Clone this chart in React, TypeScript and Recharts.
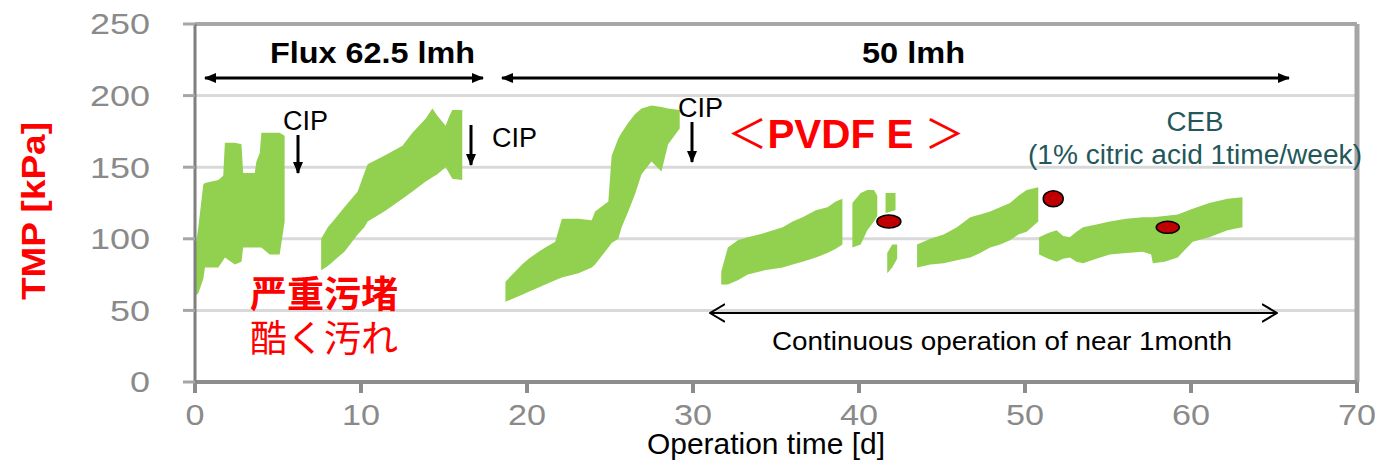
import React from 'react';
import {
  ComposedChart,
  Area,
  Scatter,
  XAxis,
  YAxis,
  CartesianGrid,
  ReferenceLine,
} from 'recharts';

// each band point: [day, low TMP, high TMP]
type Band = [number, number, number][];

const SEG_A: Band = [
  [0, 60, 92], [0.2, 62, 108], [0.5, 72, 138], [0.6, 80, 139], [1.0, 80, 140],
  [1.4, 80, 141], [1.7, 85, 144], [1.8, 87, 167], [2.4, 82, 167], [2.8, 84, 166],
  [2.9, 94, 146], [3.6, 94, 146], [3.7, 94, 154], [3.9, 94, 160], [4.0, 94, 174],
  [4.5, 89, 174], [5.1, 89, 174], [5.4, 112, 172],
];
const SEG_B: Band = [
  [7.6, 78, 100], [8.0, 81, 108], [8.3, 84, 112], [9.0, 91, 122], [9.8, 103, 133],
  [10.2, 108, 146], [10.4, 112, 152], [11.4, 119, 158], [12.5, 128, 165], [13.1, 133, 174],
  [13.9, 140, 184], [14.3, 143, 191], [14.6, 145, 186], [15.1, 150, 179], [15.3, 146, 185],
  [15.5, 142, 190], [16.1, 141, 190],
];
const SEG_C: Band = [
  [18.7, 56, 70], [19.7, 61, 82], [20.1, 63, 86], [20.7, 66, 91], [21.1, 68, 94],
  [21.7, 71, 98], [22.1, 73, 114], [23.1, 76, 114], [23.9, 80, 113], [24.1, 82, 119],
  [24.9, 94, 126], [25.1, 97, 158], [25.5, 100, 170], [25.7, 108, 174], [26.1, 119, 181],
  [26.5, 131, 187], [26.9, 145, 191], [27.5, 154, 193], [28.1, 147, 192], [28.5, 166, 191],
  [29.2, 177, 190],
];
const SEG_D1: Band = [
  [31.7, 68, 77], [32.1, 68, 94], [32.7, 71, 99], [33.3, 75, 101], [34.3, 78, 104],
  [35.4, 80, 108], [36.0, 82, 112], [36.6, 84, 115], [37.4, 87, 120], [38.1, 90, 122],
  [38.6, 93, 126], [39.0, 96, 128],
];
const SEG_D2: Band = [
  [39.6, 94, 125], [40.1, 96, 132], [40.5, 106, 134], [40.9, 112, 134], [41.1, 116, 130],
];
const SEG_D3: Band = [[41.6, 118, 132], [42.2, 120, 132]];
const SEG_D4: Band = [[41.7, 76, 90], [42.0, 80, 96], [42.3, 86, 96]];
const SEG_E: Band = [
  [43.5, 80, 96], [44.3, 82, 100], [45.1, 83, 103], [45.9, 85, 108], [46.7, 87, 115],
  [47.3, 90, 117], [47.9, 94, 119], [48.5, 96, 122], [49.1, 99, 125], [49.6, 103, 130],
  [50.1, 105, 134], [50.8, 112, 136],
];
const SEG_F: Band = [
  [50.85, 89, 101], [51.4, 86, 104], [51.9, 84, 106], [52.3, 86, 102], [52.7, 87, 101],
  [53.1, 84, 105], [53.5, 83, 108], [54.3, 86, 110], [55.1, 89, 112], [56.1, 90, 114],
  [57.1, 91, 115], [57.6, 89, 115], [57.7, 83, 115], [58.4, 84, 116], [59.2, 87, 117],
  [60.1, 98, 121], [61.1, 101, 125], [62.2, 106, 128], [63.1, 108, 129],
];

const CEB_DOTS = [
  { day: 41.8, tmp: 112 },
  { day: 51.7, tmp: 128 },
  { day: 58.6, tmp: 108 },
];
const DOT_RADII = [[12, 6.5], [10, 8], [11.5, 6]];

const X_TICKS = [0, 10, 20, 30, 40, 50, 60, 70];
const Y_TICKS = [0, 50, 100, 150, 200, 250];

const SEGMENTS: Record<string, Band> = {
  a: SEG_A, b: SEG_B, c: SEG_C, d1: SEG_D1, d2: SEG_D2, d3: SEG_D3, d4: SEG_D4, e: SEG_E, f: SEG_F,
};

const rows = Object.entries(SEGMENTS)
  .flatMap(([key, band]) => band.map(([day, lo, hi]) => ({ day, [key]: [lo, hi] })))
  .sort((p, q) => p.day - q.day);

const GREEN = '#92d050';
const TICK_COLOR = '#8a8a8a';
const FONT = '"Liberation Sans", Arial, sans-serif';

const YTick = ({ x, y, payload }: any) => {
  const s = String(payload.value);
  return (
    <text x={x} y={y} dy="0.36em" textAnchor="end" fill={TICK_COLOR} fontFamily={FONT} fontSize={29}
      textLength={s.length * 20} lengthAdjust="spacingAndGlyphs">
      {s}
    </text>
  );
};

const XTick = ({ x, y, payload }: any) => {
  const s = String(payload.value);
  return (
    <text x={x} y={y} dy="0.36em" textAnchor="middle" fill={TICK_COLOR} fontFamily={FONT} fontSize={29}
      textLength={s.length * 19} lengthAdjust="spacingAndGlyphs">
      {s}
    </text>
  );
};

const CebDot = (props: any) => {
  const { cx, cy, index } = props;
  const [rx, ry] = DOT_RADII[index] || [11, 7];
  return <ellipse cx={cx} cy={cy} rx={rx} ry={ry} fill="#c00000" stroke="#000" strokeWidth={1.5} />;
};

function Annotations() {
  return (
    <svg width={1375} height={460} style={{ position: 'absolute', left: 0, top: 0, pointerEvents: 'none' }}>
      <defs>
        <marker id="solidHead" viewBox="0 0 12 10" refX="11" refY="5" markerWidth="12" markerHeight="10"
          markerUnits="userSpaceOnUse" orient="auto-start-reverse">
          <path d="M0,0 L12,5 L0,10 z" fill="#000" />
        </marker>
        <marker id="openHead" viewBox="0 0 16 20" refX="15" refY="10" markerWidth="16" markerHeight="20"
          markerUnits="userSpaceOnUse" orient="auto-start-reverse">
          <path d="M0,1 L15,10 L0,19" fill="none" stroke="#000" strokeWidth={2} />
        </marker>
      </defs>

      {/* flux periods */}
      <line x1={205} y1={78} x2={483} y2={78} stroke="#000" strokeWidth={3}
        markerStart="url(#solidHead)" markerEnd="url(#solidHead)" />
      <line x1={502} y1={78} x2={1289} y2={78} stroke="#000" strokeWidth={3}
        markerStart="url(#solidHead)" markerEnd="url(#solidHead)" />
      <text x={270} y={63} fontFamily={FONT} fontWeight="bold" fontSize={30} fill="#000"
        textLength={205} lengthAdjust="spacingAndGlyphs">Flux 62.5 lmh</text>
      <text x={862} y={63} fontFamily={FONT} fontWeight="bold" fontSize={30} fill="#000"
        textLength={103} lengthAdjust="spacingAndGlyphs">50 lmh</text>

      {/* CIP markers */}
      <line x1={298} y1={135} x2={298} y2={173} stroke="#000" strokeWidth={3} markerEnd="url(#solidHead)" />
      <text x={283} y={130} fontFamily={FONT} fontSize={27} fill="#000" textLength={45} lengthAdjust="spacingAndGlyphs">CIP</text>
      <line x1={471} y1={125} x2={471} y2={165} stroke="#000" strokeWidth={3} markerEnd="url(#solidHead)" />
      <text x={492} y={147} fontFamily={FONT} fontSize={27} fill="#000" textLength={45} lengthAdjust="spacingAndGlyphs">CIP</text>
      <line x1={692} y1={122} x2={692} y2={162} stroke="#000" strokeWidth={3} markerEnd="url(#solidHead)" />
      <text x={678} y={117} fontFamily={FONT} fontSize={27} fill="#000" textLength={45} lengthAdjust="spacingAndGlyphs">CIP</text>

      {/* membrane label */}
      <text x={727} y={148} fontFamily={'"Liberation Sans", "Noto Sans CJK JP", sans-serif'} fontSize={40} fill="#ff0000"
        textLength={238} lengthAdjust="spacingAndGlyphs">
        <tspan fontWeight="normal">＜</tspan>
        <tspan fontWeight="bold">PVDF E </tspan>
        <tspan fontWeight="normal">＞</tspan>
      </text>

      {/* CEB note */}
      <text x={1195} y={131} textAnchor="middle" fontFamily={FONT} fontSize={27} fill="#23575a"
        textLength={57} lengthAdjust="spacingAndGlyphs">CEB</text>
      <text x={1195} y={164} textAnchor="middle" fontFamily={FONT} fontSize={27} fill="#23575a"
        textLength={334} lengthAdjust="spacingAndGlyphs">(1% citric acid 1time/week)</text>

      {/* fouling note */}
      <text x={250} y={308} fontFamily={'"Noto Sans CJK SC", sans-serif'} fontWeight="bold" fontSize={37} fill="#ff0000"
        textLength={148} lengthAdjust="spacingAndGlyphs">严重污堵</text>
      <text x={250} y={352} fontFamily={'"Noto Sans CJK JP", sans-serif'} fontSize={37} fill="#ff0000"
        textLength={148} lengthAdjust="spacingAndGlyphs">酷く汚れ</text>

      {/* continuous operation */}
      <line x1={710} y1={313} x2={1277} y2={313} stroke="#000" strokeWidth={2}
        markerStart="url(#openHead)" markerEnd="url(#openHead)" />
      <text x={772} y={350} fontFamily={FONT} fontSize={26} fill="#000"
        textLength={460} lengthAdjust="spacingAndGlyphs">Continuous operation of near 1month</text>

      {/* axis titles */}
      <text x={647} y={454} fontFamily={FONT} fontSize={29} fill="#000"
        textLength={238} lengthAdjust="spacingAndGlyphs">Operation time [d]</text>
      <text x={0} y={0} transform="translate(45,211) rotate(-90)" textAnchor="middle" fontFamily={FONT}
        fontWeight="bold" fontSize={33} fill="#ff0000" textLength={178} lengthAdjust="spacingAndGlyphs">TMP [kPa]</text>
    </svg>
  );
}

export default function App() {
  return (
    <div style={{ position: 'absolute', left: 0, top: 0, width: 1375, height: 460, background: '#fff' }}>
      <ComposedChart width={1375} height={460} data={rows} margin={{ top: 24, right: 18, bottom: 28, left: 0 }}>
        <CartesianGrid vertical={false} stroke="#d9d9d9" strokeWidth={3} />
        <XAxis
          type="number"
          dataKey="day"
          domain={[0, 70]}
          ticks={X_TICKS}
          interval={0}
          height={50}
          tickSize={11}
          tickMargin={22}
          axisLine={{ stroke: '#8c8c8c', strokeWidth: 4 }}
          tickLine={{ stroke: '#8c8c8c', strokeWidth: 4 }}
          tick={<XTick />}
        />
        <YAxis
          type="number"
          domain={[0, 250]}
          ticks={Y_TICKS}
          interval={0}
          width={195}
          tickSize={12}
          tickMargin={33}
          axisLine={{ stroke: '#7f7f7f', strokeWidth: 3 }}
          tickLine={{ stroke: '#a6a6a6', strokeWidth: 3 }}
          tick={<YTick />}
        />
        {Object.keys(SEGMENTS).map((key) => (
          <Area
            key={key}
            dataKey={key}
            type="linear"
            stroke="none"
            fill={GREEN}
            fillOpacity={1}
            connectNulls
            dot={false}
            activeDot={false}
            isAnimationActive={false}
          />
        ))}
        <ReferenceLine y={250} stroke="#a6a6a6" strokeWidth={4} />
        <ReferenceLine x={70} stroke="#a6a6a6" strokeWidth={5} />
        <Scatter data={CEB_DOTS} dataKey="tmp" shape={<CebDot />} isAnimationActive={false} />
      </ComposedChart>
      <Annotations />
    </div>
  );
}
